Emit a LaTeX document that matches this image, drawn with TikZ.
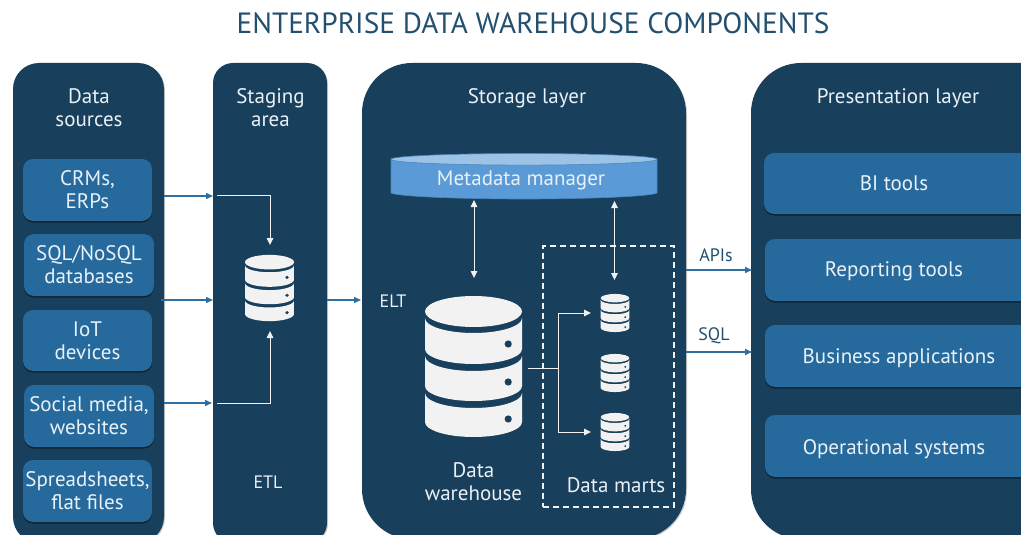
\documentclass[tikz,border=0pt]{standalone}
\usepackage{fontspec}
\setmainfont{PT Sans}
\usetikzlibrary{arrows.meta,shadows}
\definecolor{paneldark}{HTML}{183F5B}
\definecolor{boxblue}{HTML}{266A9D}
\definecolor{linkblue}{HTML}{2E6FA3}
\definecolor{titleink}{HTML}{23506F}
\definecolor{metabody}{HTML}{5A9AD6}
\definecolor{metatop}{HTML}{9CC2E6}
\definecolor{metaline}{HTML}{4A86BE}
\definecolor{paper}{HTML}{F2F2F2}
\definecolor{labelink}{HTML}{EAF1F6}
\newcommand{\dbseg}[2]{\fill[paper] (-48.5,#1) .. controls (-48.5,#1+8.3) and (-26.7,#1+15) .. (0,#1+15) .. controls (26.7,#1+15) and (48.5,#1+8.3) .. (48.5,#1) -- (48.5,#2) .. controls (48.5,#2+8.3) and (26.7,#2+15) .. (0,#2+15) .. controls (-26.7,#2+15) and (-48.5,#2+8.3) .. (-48.5,#2) -- cycle;}
\newcommand{\dbicon}[4]{\begin{scope}[shift={(#1,#2)},xscale=#3,yscale=#4]
\fill[paper] (0,-55) ellipse [x radius=48.5,y radius=15.5];
\dbseg{-48.5}{-17.5}\dbseg{-10.5}{19.5}\dbseg{26.5}{55.5}
\fill[paneldark] (34.7,-22.5) ellipse [x radius=3.6,y radius=3.6];
\fill[paneldark] (34.7,15.5) ellipse [x radius=3.6,y radius=3.6];
\fill[paneldark] (34.7,52.5) ellipse [x radius=3.6,y radius=3.6];
\end{scope}}
\tikzset{
 panel/.style={rectangle,fill=paneldark,inner sep=0pt,drop shadow={shadow xshift=1pt,shadow yshift=-1pt,opacity=.2,fill=black}},
 itembox/.style={rectangle,fill=boxblue,rounded corners=10pt,inner sep=0pt,align=center,text=labelink,font=\fontsize{21}{23}\selectfont,drop shadow={shadow xshift=0pt,shadow yshift=-1.5pt,opacity=.45,fill=black}},
 head/.style={inner sep=0pt,align=center,text=labelink,font=\fontsize{21}{23}\selectfont},
 iconbox/.style={inner sep=0pt,rectangle},
 bluelink/.style={draw=linkblue,line width=1.5pt,-{Triangle[length=7pt,width=6pt]}},
 whitelink/.style={draw=paper,line width=.9pt,-{Triangle[length=7pt,width=6.5pt]}},
 bothlink/.style={draw=paper,line width=.9pt,{Triangle[length=7pt,width=6.5pt]}-{Triangle[length=7pt,width=6.5pt]}},
 edgelabel/.style={inner sep=0pt,text=titleink,font=\fontsize{18}{21}\selectfont},
}
\begin{document}
\begin{tikzpicture}[x=1pt,y=-1pt]
\useasboundingbox (0,0) rectangle (1021,535);
\clip (0,0) rectangle (1021,535);
\fill[white] (0,0) rectangle (1021,535);
\node[inner sep=0pt,text=titleink,font=\fontsize{29.3}{34}\selectfont] (title) at (533,23) {ENTERPRISE DATA WAREHOUSE COMPONENTS};
% panels
\node[panel,rounded corners=26pt,minimum width=151pt,minimum height=480pt] (ds) at (88.5,303) {};
\node[panel,rounded corners=20pt,minimum width=114pt,minimum height=480pt] (st) at (270,303) {};
\node[panel,rounded corners=50pt,minimum width=324pt,minimum height=476pt] (sto) at (524,301) {};
\node[panel,rounded corners=50pt,minimum width=324pt,minimum height=476pt] (pres) at (913,301) {};
% panel headings
\node[head] (dsh) at (89,107.5) {Data\\sources};
\node[head] (sth) at (270.5,107.5) {Staging\\area};
\node[head] (stoh) at (527,98.5) {Storage layer};
\node[head] (presh) at (898,98.5) {Presentation layer};
% sources
\node[itembox,minimum width=129pt,minimum height=62pt] (crm) at (87.5,190) {CRMs,\\ERPs};
\node[itembox,minimum width=130pt,minimum height=62pt] (sql) at (89,265) {SQL/NoSQL\\databases};
\node[itembox,minimum width=129pt,minimum height=61pt] (iot) at (87.5,340.5) {IoT\\devices};
\node[itembox,minimum width=130pt,minimum height=62pt] (soc) at (89,416) {Social media,\\websites};
\node[itembox,minimum width=129pt,minimum height=62pt] (flat) at (87.5,491) {Spreadsheets,\\flat files};
% presentation
\node[itembox,minimum width=270pt,minimum height=61pt] (bi) at (899,183.5) {};
\node[head] (bil) at (894,183.5) {BI tools};
\node[itembox,minimum width=270pt,minimum height=62pt] (rep) at (900,270) {};
\node[head] (repl) at (894,271) {Reporting tools};
\node[itembox,minimum width=270pt,minimum height=62pt] (bus) at (900,356) {};
\node[head] (busl) at (899,358.5) {Business applications};
\node[itembox,minimum width=270pt,minimum height=62pt] (ops) at (900,446) {};
\node[head] (opsl) at (894,449.5) {Operational systems};
% staging icon
\node[iconbox,minimum width=49pt,minimum height=66pt] (stdb) at (269.5,288) {};
\dbicon{269.5}{288}{.505}{.47}
\node[inner sep=0pt,text=labelink,font=\fontsize{18}{21}\selectfont] (etl) at (268,482.5) {ETL};
% metadata
\fill[metabody,draw=metaline,line width=.6pt] (391,159) -- (391,193) .. controls (400,197) and (470,199) .. (524,199) .. controls (578,199) and (648,197) .. (657,193) -- (657,159) -- cycle;
\fill[metatop,draw=metaline,line width=.6pt] (524,159.3) ellipse [x radius=133,y radius=5.8];
\node[inner sep=0pt,minimum width=266pt,minimum height=46pt,text=labelink,font=\fontsize{21}{23}\selectfont] (meta) at (521,180) {Metadata manager};
% warehouse
\node[iconbox,minimum width=97pt,minimum height=141pt] (dw) at (473.5,366.5) {};
\dbicon{473.5}{366.5}{1}{1}
\node[head] (dwl) at (473.5,481.5) {Data\\warehouse};
\node[inner sep=0pt,text=labelink,font=\fontsize{18}{21}\selectfont] (elt) at (393,301) {ELT};
% marts
\node[draw=paper,dashed,dash pattern=on 6pt off 4pt,line width=1.3pt,rectangle,inner sep=0pt,minimum width=131pt,minimum height=261pt] (marts) at (608.5,376.5) {};
\node[iconbox,minimum width=29pt,minimum height=38pt] (m1) at (615,313) {};
\dbicon{615}{313}{.295}{.27}
\node[iconbox,minimum width=29pt,minimum height=38pt] (m2) at (615,373) {};
\dbicon{615}{373}{.295}{.27}
\node[iconbox,minimum width=29pt,minimum height=38pt] (m3) at (615,432) {};
\dbicon{615}{432}{.295}{.27}
\node[head] (martsl) at (616,485) {Data marts};
% free-end coordinates
\coordinate (in1a) at (164,196); \coordinate (in1b) at (213,196);
\coordinate (in2a) at (161,300); \coordinate (in2b) at (213,300);
\coordinate (in3a) at (164,403); \coordinate (in3b) at (212,403);
\coordinate (outa) at (327,300); \coordinate (outb) at (361,300);
\coordinate (apia) at (686,270); \coordinate (apib) at (752,270);
\coordinate (sqla) at (686,352); \coordinate (sqlb) at (752,352);
\coordinate (w1) at (217,195); \coordinate (w1k) at (270,195); \coordinate (w1e) at (270,245);
\coordinate (w3) at (217,403); \coordinate (w3k) at (270,403); \coordinate (w3e) at (270,331);
\coordinate (d1a) at (474,200); \coordinate (d1b) at (474,278);
\coordinate (d2a) at (614.5,201); \coordinate (d2b) at (614.5,280);
\coordinate (tr0) at (528,368); \coordinate (trk) at (558.5,368);
\coordinate (tr1) at (558.5,313); \coordinate (tr1e) at (591,313);
\coordinate (tr3) at (558.5,432); \coordinate (tr3e) at (591,432);
% blue links
\draw[bluelink] (in1a) -- (in1b);
\draw[bluelink] (in2a) -- (in2b);
\draw[bluelink] (in3a) -- (in3b);
\draw[bluelink] (outa) -- (outb);
\draw[bluelink] (apia) -- (apib);
\draw[bluelink] (sqla) -- (sqlb);
\node[edgelabel] (apil) at (716,255) {APIs};
\node[edgelabel] (sqll) at (714,335.5) {SQL};
% white links
\draw[whitelink] (w1) -- (w1k) -- (w1e);
\draw[whitelink] (w3) -- (w3k) -- (w3e);
\draw[bothlink] (d1a) -- (d1b);
\draw[bothlink] (d2a) -- (d2b);
\draw[draw=paper,line width=.9pt] (tr0) -- (trk);
\draw[whitelink] (trk) -- (tr1) -- (tr1e);
\draw[whitelink] (trk) -- (tr3) -- (tr3e);
\end{tikzpicture}
\end{document}
